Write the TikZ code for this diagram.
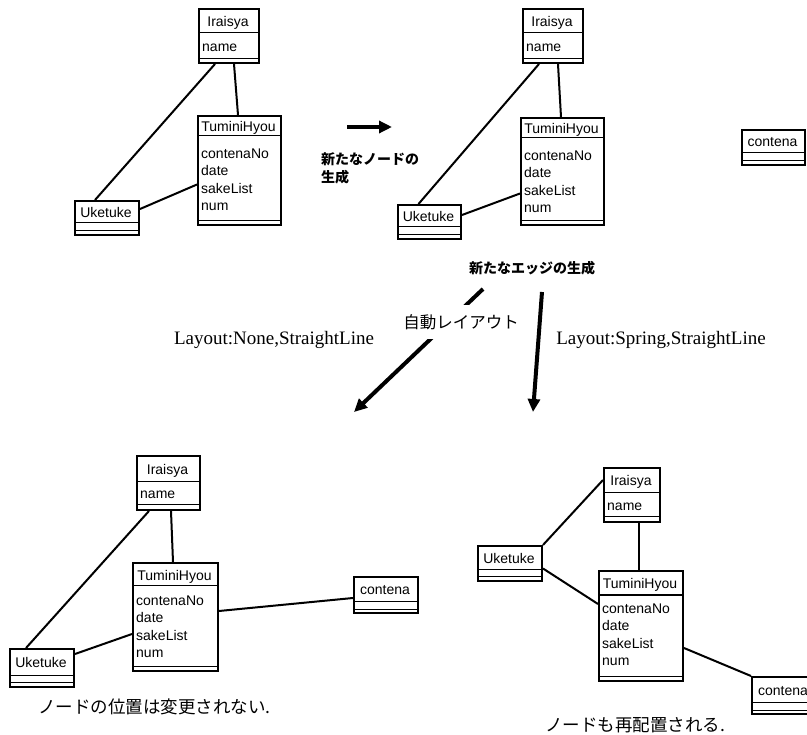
\documentclass[tikz,border=0pt]{standalone}
\usepackage{fontspec}
\setmainfont{Liberation Serif}
\newfontfamily\classfont{Liberation Sans}
\newfontfamily\jpfont{Noto Sans CJK JP}
\usetikzlibrary{calc,arrows.meta}

\tikzset{
  classframe/.style={draw, line width=2pt, inner sep=0pt, fill=white},
  divider/.style={line width=1pt},
  classtitle/.style={inner sep=0pt, font=\classfont\fontsize{14}{16}\selectfont, text height=10pt, text depth=0pt},
  classattr/.style={anchor=west, inner sep=0pt, font=\classfont\fontsize{14}{16}\selectfont, text height=10pt, text depth=0pt},
  assoc/.style={line width=2pt},
  bigarrow/.style={line width=4pt, -{Triangle[length=13pt,width=12pt]}},
  jplabel/.style={inner sep=0pt, font=\jpfont\bfseries\fontsize{14}{17}\selectfont},
  jpnote/.style={inner sep=0pt, font=\jpfont\fontsize{17.5}{20}\selectfont},
  layoutlabel/.style={inner sep=0pt, font=\fontsize{19}{22}\selectfont}
}

% class box: name, top-left, width, height, title height, bottom height, title, attributes
\newcommand{\umlclass}[8]{%
  \node[classframe, minimum width=#3pt, minimum height=#4pt, anchor=north west] (#1) at (#2) {};
  \node[classtitle] at ($(#1.north west)+({#3/2},{#5/2+1})$) {#7};
  \draw[divider] ($(#1.north west)+(0,#5)$) -- ($(#1.north east)+(0,#5)$);
  \draw[divider] ($(#1.south west)+(0,-#6)$) -- ($(#1.south east)+(0,-#6)$);
  \foreach \attr [count=\k] in {#8} {
    \node[classattr] at ($(#1.north west)+(4,{38.5+(\k-1)*17.4})$) {\attr};
  }%
}
% class box with empty compartments: name, top-left, width, height, title height, bottom height, title
\newcommand{\plainclass}[7]{%
  \node[classframe, minimum width=#3pt, minimum height=#4pt, anchor=north west] (#1) at (#2) {};
  \node[classtitle] at ($(#1.north west)+({#3/2},{#5/2+1})$) {#7};
  \draw[divider] ($(#1.north west)+(0,#5)$) -- ($(#1.north east)+(0,#5)$);
  \draw[divider] ($(#1.south west)+(0,-#6)$) -- ($(#1.south east)+(0,-#6)$);
}

\begin{document}
\begin{tikzpicture}[x=1pt, y=-1pt]
\useasboundingbox (0,0) rectangle (807,735);
\clip (0,0) rectangle (807,735);

% ---------- initial diagram ----------
\umlclass{iA}{198,8}{60}{54}{25}{5}{Iraisya}{name}
\umlclass{tA}{197,115}{83}{109}{21}{5}{TuminiHyou}{contenaNo,date,sakeList,num}
\plainclass{uA}{74,200}{64}{34}{23}{5}{Uketuke}
\draw[assoc] ([xshift=-14pt]iA.south) -- ([xshift=-12pt]uA.north);
\draw[assoc] ([xshift=5pt]iA.south) -- ([xshift=-1.5pt]tA.north);
\draw[assoc] ([yshift=9pt]uA.east) -- ([yshift=-14pt]tA.west);

% ---------- diagram with the new node ----------
\umlclass{iB}{522,8}{60}{54}{25}{5}{Iraisya}{name}
\umlclass{tB}{520,117}{83}{107}{21}{5}{TuminiHyou}{contenaNo,date,sakeList,num}
\plainclass{uB}{397,204}{63}{34}{23}{5}{Uketuke}
\plainclass{cB}{741,129}{63}{35}{24}{5}{contena}
\draw[assoc] ([xshift=-14pt]iB.south) -- ([xshift=-11pt]uB.north);
\draw[assoc] ([xshift=5pt]iB.south) -- ([xshift=-1.5pt]tB.north);
\draw[assoc] ([yshift=7pt]uB.east) -- ([yshift=-22pt]tB.west);

\coordinate (arrowStart) at (347,127);
\coordinate (arrowEnd) at (392,127);
\draw[bigarrow] (arrowStart) -- (arrowEnd);
\node[jplabel, anchor=west] (newNode) at (321,159) {新たなノードの};
\node[jplabel, anchor=west] (newNode2) at (321,177) {生成};

\node[jplabel] (newEdge) at (532,268) {新たなエッジの生成};

% ---------- automatic layout arrows ----------
\coordinate (leftFrom) at (483,289);
\coordinate (leftTo) at (354,412);
\coordinate (rightFrom) at (542,292);
\coordinate (rightTo) at (533,412);
\draw[bigarrow] (leftFrom) -- (leftTo);
\node[inner xsep=2pt, inner ysep=9pt, fill=white, font=\jpfont\fontsize{16.5}{19}\selectfont] (autoLayout) at (461,322) {自動レイアウト};
\draw[bigarrow] (rightFrom) -- (rightTo);
\node[layoutlabel] (noneLabel) at (274,340) {Layout:None,StraightLine};
\node[layoutlabel] (springLabel) at (661,340) {Layout:Spring,StraightLine};

% ---------- Layout: None ----------
\umlclass{iC}{136,455}{63}{54}{27}{6}{Iraisya}{name}
\umlclass{tC}{132,562}{85}{108}{24}{6}{TuminiHyou}{contenaNo,date,sakeList,num}
\plainclass{uC}{9,648}{64}{38}{27}{6}{Uketuke}
\plainclass{cC}{353,576}{64}{36}{25}{5}{contena}
\draw[assoc] ([xshift=-19.5pt]iC.south) -- ([xshift=-16pt]uC.north);
\draw[assoc] ([xshift=2.5pt]iC.south) -- ([xshift=-2.5pt]tC.north);
\draw[assoc] ([yshift=14pt]uC.east) -- ([yshift=-17pt]tC.west);
\draw[assoc] ([yshift=6pt]tC.east) -- ([yshift=-3pt]cC.west);
\node[jpnote, anchor=west] (noteNone) at (38,707) {ノードの位置は変更されない.};

% ---------- Layout: Spring ----------
\umlclass{iD}{603,467}{56}{54}{26}{6}{Iraisya}{name}
\plainclass{uD}{477,545}{64}{35}{25}{5}{Uketuke}
\umlclass{tD}{598,570}{84}{110}{25}{6}{TuminiHyou}{contenaNo,date,sakeList,num}
\plainclass{cD}{751,676}{64}{37}{26}{5}{contena}
\draw[assoc] (uD.north east) -- ([yshift=15pt]iD.west);
\draw[assoc] ([xshift=7pt]iD.south) -- ([xshift=-2pt]tD.north);
\draw[assoc] ([yshift=-5pt]uD.east) -- ([yshift=22pt]tD.west);
\draw[assoc] ([yshift=-22pt]tD.east) -- (cD.north west);
\node[jpnote, anchor=west] (noteSpring) at (545,725) {ノードも再配置される.};
\end{tikzpicture}
\end{document}
